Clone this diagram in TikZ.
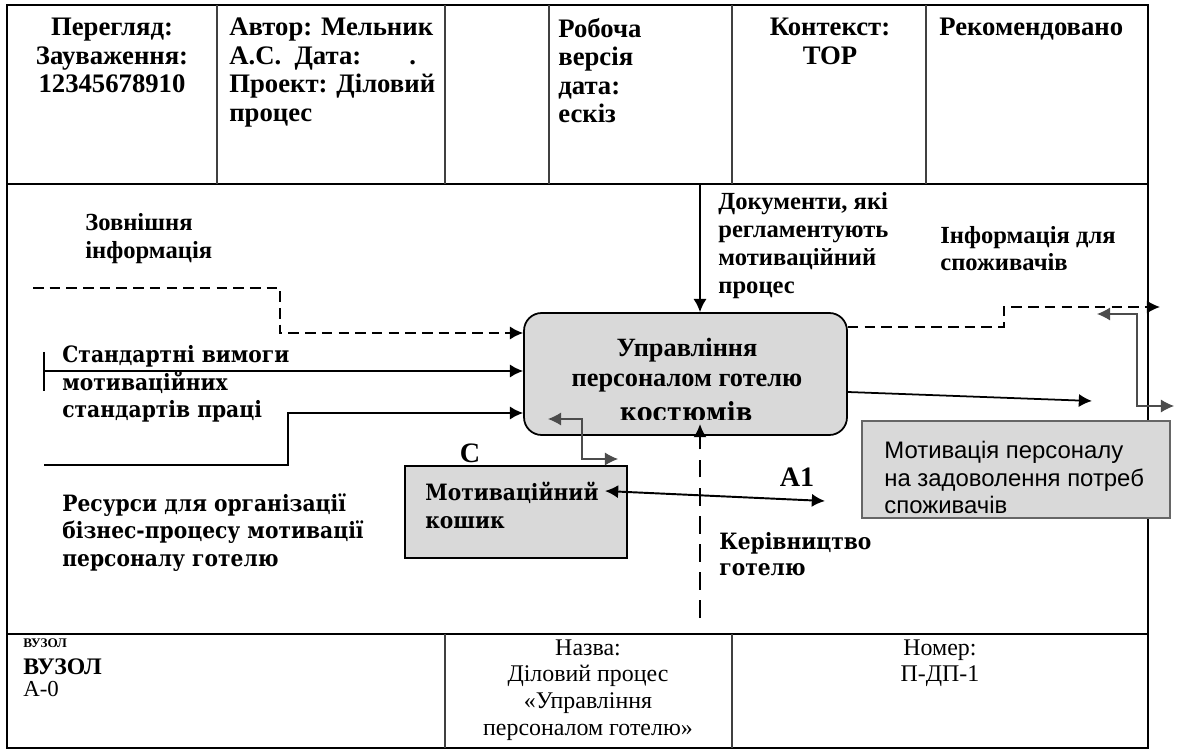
\documentclass[tikz,border=0pt]{standalone}
\usepackage{fontspec}
\setmainfont{Liberation Serif}
\newfontfamily\slabfont[FakeStretch=0.9]{DejaVu Serif}
\newfontfamily\boxfont{Liberation Sans}
\usetikzlibrary{arrows.meta,calc}
\definecolor{boxgray}{HTML}{D9D9D9}
\tikzset{
  frameline/.style={line width=1.4pt},
  cellline/.style={line width=0.8pt, draw=black!75},
  mainflow/.style={line width=1pt, -{Latex[length=7.5pt,width=7.5pt]}},
  dashflow/.style={mainflow, dash pattern=on 6pt off 3.5pt},
  ctrlflow/.style={line width=1.4pt, dash pattern=on 10pt off 6pt, -{Latex[length=7.5pt,width=7.5pt]}},
  backflow/.style={line width=0.6pt, draw=black!70, {Latex[length=7.5pt,width=7.5pt]}-{Latex[length=7.5pt,width=7.5pt]}},
  procbox/.style={draw, line width=1pt, fill=boxgray, rounded corners=10pt, minimum width=6.46cm, minimum height=2.44cm},
  greybox/.style={draw, line width=1pt, fill=boxgray},
  hdr/.style={inner sep=0pt, align=left, font=\fontsize{15.2}{16.2}\selectfont\bfseries},
  lbl/.style={inner sep=0pt, align=left, anchor=north west, font=\fontsize{14}{15.9}\selectfont\bfseries},
  slab/.style={inner sep=0pt, align=left, anchor=north west, font=\slabfont\fontsize{12.8}{15.7}\selectfont\bfseries},
  foottext/.style={inner sep=0pt, align=center, anchor=north, font=\fontsize{13.6}{15.3}\selectfont},
}
\begin{document}
\begin{tikzpicture}[x=0.02cm, y=-0.02cm]
\useasboundingbox (0,0) rectangle (1177,753);
%Рамка
  \draw[frameline] (7,5) rectangle (1148,748);
  \draw[frameline] (7,184) -- (1148,184);
  \draw[frameline] (7,634) -- (1148,634);
  \foreach \x in {217,445,549,732,926}
    \draw[cellline] (\x,5) -- (\x,184);
  \foreach \x in {445,732}
    \draw[cellline] (\x,634) -- (\x,748);
%Заголовок
  \node[hdr, anchor=north, align=center] (review) at (112,18)
    {Перегляд:\\Зауваження:\\12345678910};
  \node[hdr, anchor=north west] (author) at (229,18)
    {Автор: Мельник\\А.С.\ \ Дата:\hspace{1.8em}.\\Проект: Діловий\\процес};
  \node[hdr, anchor=north west] (status) at (558,18)
    {Робоча\\версія\\дата:\\ескіз};
  \node[hdr, anchor=north, align=center] (context) at (830,18)
    {Контекст:\\TOP};
  \node[hdr, anchor=north west] (recommended) at (939,18)
    {Рекомендовано};
%Блоки
  \node[procbox] (proc) at (685.5,374) {};
  \node[hdr, anchor=north, align=center, font=\fontsize{15}{17}\selectfont\bfseries] (proctitle) at (687,338)
    {Управління\\персоналом готелю};
  \begin{scope}
    \clip (524,395) rectangle (848,419);
    \node[inner sep=0pt, font=\slabfont\fontsize{15}{17}\selectfont\bfseries] (procsub) at (686,412)
      {костюмів};
  \end{scope}
  \node[greybox, minimum width=4.44cm, minimum height=1.84cm] (basket) at (516,512) {};
  \node[slab] (basketlbl) at (425,482)
    {Мотиваційний\\кошик};
  \node[greybox, draw=black!60, line width=0.8pt, minimum width=6.16cm, minimum height=1.94cm] (motiv) at (1016,469.5) {};
  \node[inner sep=0pt, align=left, anchor=north west, font=\boxfont\fontsize{13.6}{15.6}\selectfont] (motivlbl) at (884,441)
    {Мотивація персоналу\\на задоволення потреб\\споживачів};
%Входи
  \coordinate (extsrc) at (33,288);
  \draw[dashflow] (extsrc) -- (280,288) -- (280,333) -- (proc.west |- 0,333);
  \coordinate (stdsrc) at (44,371);
  \draw[line width=0.8pt] ($(stdsrc)+(0,-19)$) -- ($(stdsrc)+(0,20)$);
  \draw[mainflow] (stdsrc) -- (proc.west |- stdsrc);
  \coordinate (ressrc) at (44,465);
  \draw[mainflow] (ressrc) -- (288,465) -- (288,413) -- (proc.west |- 0,413);
  \coordinate (docsrc) at (700,184);
  \draw[mainflow] (docsrc) -- (proc.north -| docsrc);
%Виходи
  \coordinate (infoout) at (1160,307);
  \draw[dashflow] (proc.east |- 0,327) -- (1004,327) -- (1004,307) -- (infoout);
  \coordinate (fbtipA) at (1097,314);
  \coordinate (fbtipB) at (1174,406);
  \draw[backflow] (fbtipA) -- (1137,314) |- (fbtipB);
  \coordinate (resout) at (1092,401);
  \draw[mainflow] (proc.east |- 0,392) -- (resout);
%Кошик
  \coordinate (fbtipC) at (548,419);
  \coordinate (fbtipD) at (618,459);
  \draw[backflow] (fbtipC) -- (582,419) |- (fbtipD);
  \coordinate (dblA) at (605,491);
  \coordinate (dblB) at (825,501);
  \draw[mainflow, line width=1.1pt, {Latex[length=7.5pt,width=7.5pt]}-{Latex[length=7.5pt,width=7.5pt]}] (dblA) -- (dblB);
  \coordinate (mgmtsrc) at (700,618);
  \coordinate (mgmttip) at (700,424);
  \draw[ctrlflow] (mgmtsrc) -- (mgmttip);
%Підписи
  \node[lbl] (extlbl) at (85,213)
    {Зовнішня\\інформація};
  \node[slab] (stdlbl) at (62,345)
    {Стандартні вимоги\\мотиваційних\\стандартів праці};
  \node[slab] (reslbl) at (62,493)
    {Ресурси для організації\\бізнес-процесу мотивації\\персоналу готелю};
  \node[lbl, font=\fontsize{14}{15.9}\selectfont\bfseries] (doclbl) at (718,192)
    {Документи, які\\регламентують\\мотиваційний\\процес};
  \node[lbl, font=\fontsize{14}{15.3}\selectfont\bfseries] (infolbl) at (940,226)
    {Інформація для\\споживачів};
  \node[slab, font=\slabfont\fontsize{12.8}{14.7}\selectfont\bfseries] (mgmtlbl) at (719,532)
    {Керівництво\\готелю};
  \node[inner sep=0pt, font=\fontsize{16}{18}\selectfont\bfseries] (clbl) at (470,453) {C};
  \node[inner sep=0pt, font=\fontsize{16}{18}\selectfont\bfseries] (alabel) at (797,477) {A1};
%Нижній рядок
  \node[inner sep=0pt, anchor=west, font=\fontsize{7.5}{9}\selectfont\bfseries] (nodesmall) at (23,643) {ВУЗОЛ};
  \node[inner sep=0pt, anchor=west, font=\fontsize{13.5}{15}\selectfont\bfseries] (nodebig) at (23,667) {ВУЗОЛ};
  \node[inner sep=0pt, anchor=west, font=\fontsize{13}{15}\selectfont] (nodeid) at (23,689) {А-0};
  \node[foottext] (title) at (588,639)
    {Назва:\\Діловий процес\\«Управління\\персоналом готелю»};
  \node[foottext] (number) at (940,639)
    {Номер:\\П-ДП-1};
\end{tikzpicture}
\end{document}
